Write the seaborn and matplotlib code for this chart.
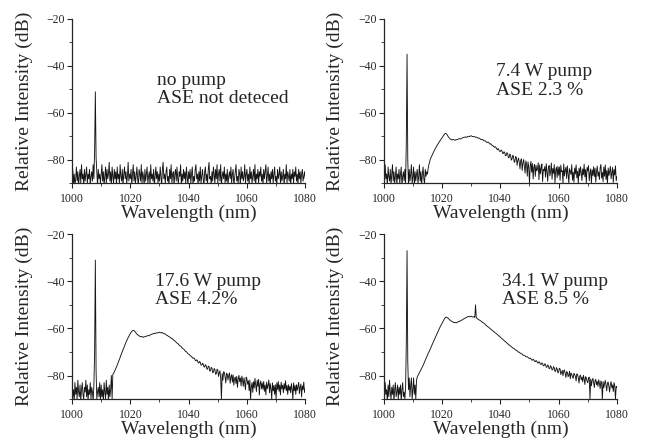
import numpy as np
import pandas as pd
import matplotlib
matplotlib.use("Agg")
import matplotlib.pyplot as plt
from matplotlib.ticker import MultipleLocator
import seaborn as sns

# wavelength sampling of the OSA traces (nm), 0.25 nm steps
wavelength = np.arange(1000, 1080.1, 0.25)

# no pump
no_pump = [-87, -84, -90, -86, -91, -88, -83, -89, -85, -91, -87, -84, -90, -82, -88, -86, -91, -84, -89, -86,
           -83, -90, -86, -88, -84, -91, -87, -85, -89, -82, -88, -76, -51, -79, -85, -91, -84, -88, -86, -90,
           -86, -82, -89, -85, -91, -87, -83, -90, -84, -88, -86, -81, -89, -85, -91, -83, -87, -90, -84, -88,
           -85, -91, -83, -88, -86, -90, -82, -87, -89, -84, -91, -86, -83, -88, -85, -90, -87, -81, -89, -86,
           -88, -84, -91, -86, -82, -89, -85, -90, -87, -83, -88, -91, -84, -86, -89, -82, -90, -85, -87, -91,
           -84, -89, -86, -83, -90, -87, -85, -91, -82, -88, -86, -89, -84, -91, -87, -83, -88, -85, -90, -86,
           -89, -83, -87, -91, -84, -81, -88, -86, -90, -85, -83, -89, -87, -91, -84, -88, -82, -90, -86, -85,
           -91, -86, -84, -89, -83, -88, -90, -85, -87, -82, -91, -86, -89, -84, -88, -85, -90, -83, -87, -91,
           -85, -88, -84, -90, -86, -83, -91, -87, -89, -84, -82, -88, -86, -91, -85, -89, -83, -90, -87, -84,
           -88, -91, -85, -83, -89, -86, -90, -84, -81, -88, -87, -91, -85, -89, -83, -86, -90, -84, -88, -82,
           -90, -86, -84, -89, -82, -91, -87, -85, -88, -83, -90, -86, -89, -84, -91, -87, -85, -88, -83, -90,
           -86, -84, -91, -88, -85, -82, -89, -87, -90, -84, -86, -91, -83, -88, -85, -89, -87, -82, -90, -86,
           -84, -89, -86, -91, -83, -88, -85, -90, -87, -84, -89, -82, -91, -86, -88, -84, -90, -85, -87, -83,
           -89, -86, -91, -84, -88, -85, -82, -90, -87, -83, -89, -86, -91, -85, -88, -84, -90, -86, -83, -89,
           -87, -91, -84, -88, -86, -83, -90, -85, -89, -87, -84, -91, -86, -88, -82, -90, -85, -87, -89, -84,
           -91, -86, -88, -84, -90, -85, -87, -83, -89, -86, -91, -84, -88, -85, -90, -86, -84, -89, -87, -85,
           -88]

# 7.4 W pump
pump_7_4 = [-85, -90, -82, -88, -86, -91, -83, -87, -89, -84, -91, -86, -82, -89, -85, -90, -87, -83, -91, -86,
            -88, -84, -90, -86, -83, -91, -87, -85, -89, -84, -90, -72, -35, -80, -91, -84, -89, -86, -82, -90,
            -87, -83, -91, -85, -89, -86, -84, -90, -87, -82, -89, -85, -91, -86, -83, -88, -90, -84, -87, -85,
            -86, -83.5, -82, -80.8, -79.6, -78.9, -78.2, -77.5, -76.8, -76.2, -75.6, -75.0, -74.4, -73.9, -73.4, -72.9, -72.4, -71.9, -71.5, -71.0,
            -70.6, -70.1, -69.6, -69.2, -68.8, -68.7, -68.9, -69.3, -69.8, -70.3, -70.7, -71.0, -71.2, -71.4, -71.5, -71.3, -71.3, -71.5, -71.6, -71.4,
            -71.4, -71.3, -71.2, -71.0, -70.9, -71.1, -71.0, -70.8, -70.6, -70.5, -70.4, -70.3, -70.2, -70.4, -70.3, -70.1, -69.9, -70.0, -70.0, -69.8,
            -69.7, -69.9, -70.1, -70.0, -70.0, -70.2, -70.4, -70.3, -70.3, -70.6, -70.8, -70.7, -70.9, -71.2, -71.4, -71.3, -71.3, -71.7, -71.9, -71.8,
            -72.1, -72.4, -72.6, -72.4, -72.5, -73.0, -73.3, -73.1, -73.6, -73.9, -73.9, -74.4, -74.6, -74.3, -74.7, -75.3, -75.6, -75.1, -75.8, -76.3,
            -76.4, -75.8, -76.0, -77.1, -77.3, -76.5, -76.8, -78.2, -78.1, -76.9, -77.2, -79.0, -79.0, -77.5, -77.8, -80.1, -79.6, -78.0, -78.4, -81.0,
            -80.6, -78.5, -78.9, -82.3, -80.2, -79.2, -81.0, -83.8, -80.1, -79.5, -84.5, -81.2, -79.8, -82.7, -85.6, -80.4, -81.6, -86.9, -80.8, -83.0,
            -90.0, -82.6, -80.6, -85.2, -81.5, -88.1, -83.0, -81.9, -87.0, -82.3, -84.7, -83.8, -81.2, -88.4, -82.1, -85.9, -83.4, -81.7, -89.2, -84.0,
            -84.6, -82.8, -87.3, -81.6, -85.0, -89.1, -83.2, -82.4, -86.8, -84.9, -81.3, -88.2, -83.6, -85.7, -82.0, -90.0, -84.4, -83.1, -87.5, -82.7,
            -86.5, -83.0, -88.7, -82.2, -85.0, -84.6, -89.9, -81.7, -86.8, -84.3, -83.1, -87.9, -82.5, -85.8, -90.0, -83.7, -84.9, -86.2, -82.0, -88.6,
            -85.2, -89.5, -83.4, -86.0, -82.1, -87.6, -84.8, -90.0, -83.5, -86.7, -82.9, -85.4, -88.8, -83.8, -86.3, -81.8, -87.2, -84.1, -89.7, -83.2,
            -84.7, -82.4, -88.9, -85.5, -83.8, -90.0, -84.2, -86.6, -82.9, -87.1, -83.5, -89.4, -84.8, -82.6, -86.9, -85.1, -88.3, -83.3, -81.9, -87.7,
            -85.3, -89.2, -83.0, -86.9, -82.1, -88.3, -84.5, -90.0, -83.4, -86.6, -84.9, -82.7, -88.0, -85.6, -83.2, -89.6, -84.1, -86.4, -82.5, -88.9,
            -87.0]

# 17.6 W pump
pump_17_6 = [-84, -89, -86, -91, -83, -88, -85, -90, -82, -87, -89, -84, -91, -86, -83, -88, -90, -85, -87, -82,
             -89, -84, -91, -86, -88, -83, -90, -85, -87, -91, -84, -70, -31, -78, -90, -87, -85, -89, -83, -91,
             -84, -89, -86, -91, -83, -87, -90, -82, -88, -85, -91, -84, -89, -86, -80, -90, -79.5, -79.0, -78.5, -77.8,
             -77.2, -76.4, -75.6, -74.8, -74.0, -73.1, -72.3, -71.4, -70.6, -69.8, -68.9, -68.2, -67.4, -66.6, -65.9, -65.2, -64.5, -63.9, -63.3, -62.7,
             -62.2, -61.7, -61.3, -61.0, -60.8, -60.9, -61.2, -61.6, -62.0, -62.4, -62.7, -62.9, -63.1, -63.4, -63.6, -63.5, -63.4, -63.6, -63.8, -63.6,
             -63.5, -63.4, -63.3, -63.2, -63.0, -63.1, -63.1, -62.8, -62.6, -62.5, -62.4, -62.3, -62.1, -62.2, -62.2, -62.0, -61.8, -61.9, -61.9, -61.7,
             -61.6, -61.8, -61.9, -61.7, -61.8, -62.1, -62.3, -62.2, -62.4, -62.7, -62.9, -63.0, -63.3, -63.5, -63.6, -63.9, -64.2, -64.3, -64.5, -64.8,
             -65.1, -65.3, -65.6, -65.9, -66.2, -66.4, -66.7, -67.1, -67.4, -67.5, -67.8, -68.3, -68.6, -68.7, -69.0, -69.5, -69.8, -69.9, -70.3, -70.7,
             -70.9, -71.1, -71.5, -71.8, -71.9, -72.4, -72.7, -72.5, -72.8, -73.5, -73.8, -73.3, -73.6, -74.5, -74.7, -74.0, -74.4, -75.5, -75.6, -74.8,
             -75.1, -76.3, -76.4, -75.4, -75.8, -77.2, -77.3, -76.0, -76.2, -78.1, -78.0, -76.5, -76.9, -78.8, -78.6, -77.0, -77.4, -79.5, -79.2, -77.3,
             -77.6, -80.4, -78.8, -78.0, -81.2, -90.0, -79.2, -82.0, -78.4, -78.7, -80.6, -83.1, -79.0, -79.4, -81.9, -80.0, -78.9, -83.3, -80.5, -79.6,
             -82.8, -79.7, -84.1, -81.3, -80.6, -83.4, -80.4, -85.0, -81.3, -79.9, -82.6, -81.0, -84.4, -80.2, -81.8, -84.6, -80.9, -83.2, -86.0, -80.7,
             -81.5, -83.7, -82.2, -86.4, -81.9, -90.0, -84.8, -83.0, -87.1, -82.6, -85.3, -81.2, -83.9, -86.8, -82.0, -84.5, -81.6, -88.3, -83.4, -82.3,
             -85.6, -83.1, -85.9, -82.5, -86.7, -84.0, -88.2, -82.8, -85.6, -84.1, -81.9, -87.3, -83.4, -85.8, -90.0, -83.1, -86.5, -84.2, -88.0, -83.9,
             -90.0, -83.1, -85.9, -82.5, -86.7, -84.0, -88.2, -82.8, -85.6, -84.1, -87.3, -83.4, -85.8, -82.2, -86.5, -84.2, -88.0, -83.9, -86.3, -84.6,
             -87.3, -83.4, -85.8, -90.0, -83.1, -86.5, -84.2, -88.0, -83.9, -86.3, -84.6, -82.9, -87.7, -85.0, -83.6, -89.1, -84.4, -86.0, -82.8, -87.2,
             -85.5]

# 34.1 W pump
pump_34_1 = [-85, -90, -83, -88, -86, -91, -84, -89, -82, -87, -90, -85, -88, -84, -91, -86, -83, -89, -87, -84,
             -90, -85, -88, -84, -91, -86, -83, -89, -87, -90, -85, -66, -27, -74, -86, -81, -89, -84, -81, -90,
             -86, -81, -88, -84, -90, -82, -80.6, -80.0, -79.4, -78.7, -78.1, -77.5, -76.9, -76.3, -75.7, -75.0, -74.3, -73.6, -72.9, -72.1,
             -71.3, -70.6, -70.0, -69.3, -68.7, -67.9, -67.2, -66.5, -65.8, -65.0, -64.3, -63.6, -62.9, -62.2, -61.6, -60.9, -60.3, -59.6, -59.0, -58.4,
             -57.8, -57.2, -56.7, -56.1, -55.6, -55.3, -55.2, -55.4, -55.6, -55.9, -56.2, -56.5, -56.8, -56.9, -57.1, -57.3, -57.5, -57.6, -57.4, -57.5,
             -57.6, -57.4, -57.2, -57.1, -57.0, -56.8, -56.6, -56.5, -56.3, -56.1, -55.9, -55.8, -55.6, -55.4, -55.3, -55.1, -54.9, -55.0, -55.1, -54.9,
             -54.8, -55.0, -55.2, -55.1, -55.0, -55.3, -50.0, -55.5, -55.7, -56.0, -56.2, -56.4, -56.6, -56.8, -57.0, -57.3, -57.5, -57.7, -57.9, -58.2,
             -58.6, -58.8, -59.1, -59.3, -59.5, -59.8, -60.1, -60.3, -60.6, -60.9, -61.1, -61.3, -61.6, -61.9, -62.1, -62.3, -62.6, -62.9, -63.2, -63.4,
             -63.7, -64.0, -64.3, -64.5, -64.8, -65.1, -65.4, -65.6, -65.9, -66.2, -66.5, -66.7, -67.0, -67.3, -67.5, -67.7, -68.0, -68.3, -68.4, -68.6,
             -68.9, -69.2, -69.3, -69.5, -69.8, -70.1, -70.1, -70.4, -70.6, -70.8, -70.9, -71.3, -71.4, -71.4, -71.6, -72.0, -72.1, -72.0, -72.3, -72.6,
             -72.8, -72.6, -72.9, -73.4, -73.5, -73.1, -73.4, -74.0, -74.1, -73.6, -73.9, -74.6, -74.7, -74.1, -74.5, -75.2, -75.3, -74.6, -75.0, -75.9,
             -75.8, -75.0, -75.4, -76.5, -76.4, -75.5, -75.9, -77.1, -76.9, -75.8, -76.5, -77.6, -77.5, -76.2, -76.8, -78.3, -78.1, -76.6, -77.2, -78.9,
             -78.4, -76.9, -77.2, -79.6, -78.7, -77.8, -80.1, -78.0, -77.6, -79.2, -80.8, -78.3, -78.6, -80.5, -79.9, -78.2, -81.3, -79.0, -79.4, -80.6,
             -81.2, -79.0, -79.6, -80.4, -82.3, -79.3, -79.6, -81.0, -83.2, -80.3, -79.8, -81.8, -80.7, -82.6, -79.9, -81.4, -83.8, -80.5, -81.0, -82.4,
             -83.1, -81.0, -80.7, -90.0, -81.5, -84.3, -82.0, -81.2, -83.0, -85.1, -82.1, -81.6, -83.9, -82.5, -84.6, -81.8, -83.3, -85.5, -82.3, -83.0,
             -90.0, -82.6, -85.2, -83.4, -82.1, -84.1, -86.5, -83.1, -82.8, -84.7, -87.0, -83.8, -82.6, -85.2, -84.0, -86.8, -83.0, -84.4, -90.0, -84.6,
             -85.2]

labels = ["no pump\nASE not deteced", "7.4 W pump\nASE 2.3 %",
          "17.6 W pump\nASE 4.2%", "34.1 W pump\nASE 8.5 %"]
traces = [no_pump, pump_7_4, pump_17_6, pump_34_1]

sns.set_style("ticks")
plt.rcParams['font.family'] = ['Liberation Serif', 'DejaVu Serif']

fig = plt.figure(figsize=(6.46, 4.41), dpi=100)
# panel boxes in figure fractions [left, bottom, width, height]
boxes = [[0.1115, 0.584, 0.361, 0.373], [0.594, 0.584, 0.361, 0.373],
         [0.1115, 0.095, 0.361, 0.374], [0.594, 0.095, 0.361, 0.374]]
text_pos = [(0.365, 0.68), (0.48, 0.73), (0.356, 0.765), (0.506, 0.765)]

for k in range(4):
    ax = fig.add_axes(boxes[k])
    df = pd.DataFrame({"wl": wavelength, "dB": traces[k]})
    sns.lineplot(data=df, x="wl", y="dB", ax=ax, color="#151515",
                 linewidth=0.65, estimator=None, sort=False)
    ax.set_xlim(1000, 1080)
    ax.set_ylim(-90, -20)
    ax.set_xticks([1000, 1020, 1040, 1060, 1080])
    ax.set_yticks([-80, -60, -40, -20])
    ax.xaxis.set_minor_locator(MultipleLocator(10))
    ax.yaxis.set_minor_locator(MultipleLocator(10))
    ax.tick_params(which="major", length=3.5, width=0.8, labelsize=8.5, direction="out")
    ax.tick_params(axis="x", which="major", pad=3.5)
    ax.tick_params(axis="y", which="major", pad=1.5)
    ax.tick_params(which="minor", length=2, width=0.6, direction="out")
    sns.despine(ax=ax)
    for s in ["left", "bottom"]:
        ax.spines[s].set_linewidth(0.9)
    ax.set_xlabel("Wavelength (nm)", fontsize=14, labelpad=0)
    ax.set_ylabel("Relative Intensity (dB)", fontsize=14, labelpad=10)
    ax.text(text_pos[k][0], text_pos[k][1], labels[k], transform=ax.transAxes,
            fontsize=14, va="top", ha="left", linespacing=1.1)

fig.savefig("out.png", dpi=100)
